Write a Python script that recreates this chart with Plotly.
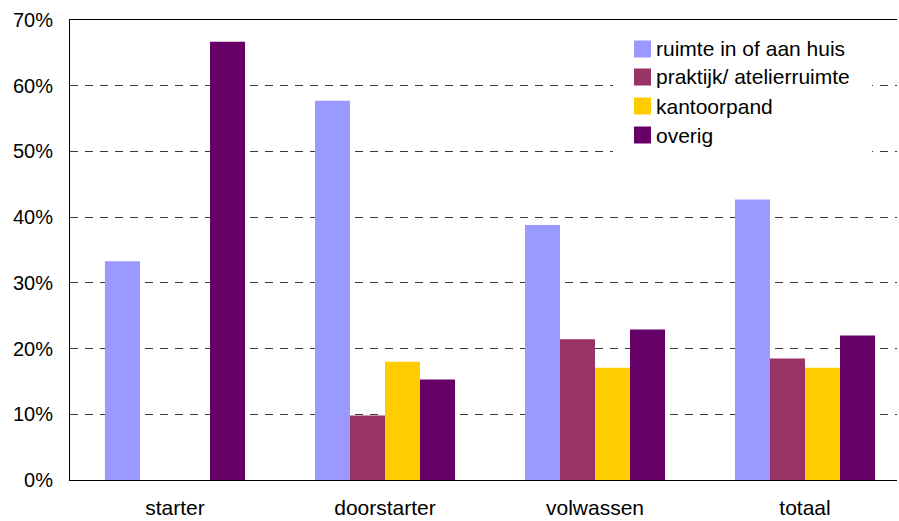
import plotly.graph_objects as go

# Share of respondents per type of workspace, by company phase
categories = ["starter", "doorstarter", "volwassen", "totaal"]
series_names = ["ruimte in of aan huis", "praktijk/ atelierruimte", "kantoorpand", "overig"]
ruimte_huis = [0.333, 0.577, 0.388, 0.427]
praktijk = [0.0, 0.098, 0.214, 0.185]
kantoorpand = [0.0, 0.180, 0.171, 0.171]
overig = [0.667, 0.153, 0.229, 0.220]
colors = ["#9999FF", "#993366", "#FFCC00", "#660066"]
y_ticks = [0, 0.1, 0.2, 0.3, 0.4, 0.5, 0.6, 0.7]

FONT = "Liberation Sans, Arial, sans-serif"
W, H = 899, 521
M_L, M_R, M_T, M_B = 70, 2, 20, 41
CAT_PX = 210  # horizontal space per category; the last group runs slightly past the right edge

fig = go.Figure()
for name, vals, col in zip(series_names, [ruimte_huis, praktijk, kantoorpand, overig], colors):
    fig.add_trace(go.Bar(x=categories, y=vals, name=name, marker=dict(color=col, line=dict(width=0)),
                         showlegend=False))

# Legend box drawn in paper coordinates
plot_w = W - M_L - M_R
plot_h = H - M_T - M_B


def px_x(px):
    return (px - M_L) / plot_w


def px_y(py):
    return (H - M_B - py) / plot_h


shapes = [dict(type="rect", xref="paper", yref="paper", layer="above",
               x0=px_x(613), x1=px_x(872), y0=px_y(163), y1=px_y(25),
               fillcolor="white", line=dict(width=0))]
annotations = []
row_y = [49, 77, 106, 135]
for name, col, cy in zip(series_names, colors, row_y):
    shapes.append(dict(type="rect", xref="paper", yref="paper", layer="above",
                       x0=px_x(634), x1=px_x(651), y0=px_y(cy + 8.5), y1=px_y(cy - 8.5),
                       fillcolor=col, line=dict(width=0)))
    annotations.append(dict(xref="paper", yref="paper", x=px_x(654), y=px_y(cy),
                            xanchor="left", yanchor="middle", text=name, showarrow=False,
                            font=dict(family=FONT, size=21, color="black")))

fig.update_layout(
    width=W, height=H,
    margin=dict(l=M_L, r=M_R, t=M_T, b=M_B, autoexpand=False),
    paper_bgcolor="white", plot_bgcolor="white",
    barmode="group", bargap=0.333, bargroupgap=0,
    font=dict(family=FONT, size=20, color="black"),
    shapes=shapes, annotations=annotations,
    showlegend=False,
)
fig.update_xaxes(range=[-0.5, -0.5 + plot_w / CAT_PX], showline=True, linecolor="black",
                 linewidth=1, mirror=True, ticks="", showgrid=False, automargin=False,
                 tickfont=dict(size=21), ticklabelstandoff=9)
fig.update_yaxes(range=[0, 0.7], tickvals=y_ticks, tickformat=".0%", showline=True,
                 linecolor="black", linewidth=1, ticks="", showgrid=True, gridcolor="#3a3a3a",
                 griddash="8px,7px", gridwidth=1.2, zeroline=False, tickfont=dict(size=20),
                 ticklabelstandoff=12, automargin=False)

fig.write_html("out.html")
